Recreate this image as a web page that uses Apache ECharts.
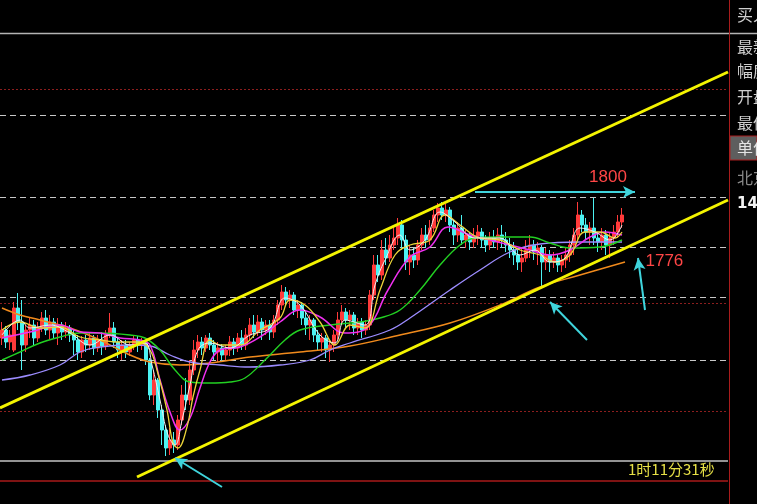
<!DOCTYPE html>
<html>
<head>
<meta charset="utf-8">
<script src="https://cdn.jsdelivr.net/npm/echarts@6/dist/echarts.min.js"></script>
<style>
  html, body { margin: 0; padding: 0; background: #000; }
  #chart { width: 757px; height: 504px; }
</style>
</head>
<body>
<div id="chart"></div>
<script>
// K-line values, one per bar
const opens = [
  1743.6,1746.8,1742.0,1738.8,1755.6,1750.0,1740.8,1746.8,1748.8,1743.6,
  1747.6,1751.6,1746.8,1750.0,1745.6,1748.8,1746.0,1747.6,1744.8,1742.8,
  1738.0,1742.8,1740.8,1743.6,1739.6,1742.8,1740.4,1744.8,1747.6,1742.0,
  1738.8,1740.8,1738.0,1740.8,1742.8,1740.8,1742.0,1734.8,1720.8,1726.8,
  1714.8,1706.8,1699.6,1702.8,1700.8,1710.8,1720.8,1718.8,1730.8,1738.8,
  1742.0,1739.6,1743.6,1740.8,1738.0,1739.6,1736.8,1738.8,1742.0,1739.6,
  1743.6,1740.8,1744.8,1748.8,1746.0,1750.0,1746.8,1748.8,1746.0,1750.8,
  1756.8,1762.0,1758.8,1760.8,1754.8,1756.8,1751.6,1748.8,1750.8,1744.8,
  1742.0,1743.6,1738.8,1740.8,1744.8,1750.8,1754.0,1750.8,1752.8,1747.6,
  1750.0,1746.8,1748.8,1760.8,1772.8,1768.8,1778.8,1775.6,1780.8,1783.6,
  1788.8,1782.8,1774.0,1776.8,1774.8,1780.8,1784.8,1782.8,1787.6,1792.8,
  1795.6,1792.8,1794.8,1788.8,1784.8,1787.6,1782.8,1784.8,1782.0,1784.4,
  1786.0,1782.8,1780.8,1783.6,1782.0,1784.8,1782.8,1780.8,1778.8,1776.8,
  1774.0,1775.6,1778.8,1780.8,1778.0,1779.6,1774.0,1776.8,1774.0,1775.6,
  1772.8,1774.8,1776.8,1780.8,1784.8,1792.8,1788.8,1786.0,1787.6,1783.6,
  1782.0,1784.8,1780.8,1783.6,1786.0,1790.0
];
const closes = [
  1746.8,1742.0,1744.8,1755.6,1750.0,1740.8,1746.8,1748.8,1743.6,1747.6,
  1751.6,1746.8,1750.0,1745.6,1748.8,1746.0,1747.6,1744.8,1742.8,1738.0,
  1742.8,1740.8,1743.6,1739.6,1742.8,1740.4,1744.8,1747.6,1742.0,1738.8,
  1740.8,1738.0,1740.8,1742.8,1740.8,1742.0,1734.8,1720.8,1726.8,1714.8,
  1706.8,1699.6,1702.8,1700.8,1710.8,1720.8,1718.8,1730.8,1738.8,1742.0,
  1739.6,1743.6,1740.8,1738.0,1739.6,1736.8,1738.8,1742.0,1739.6,1743.6,
  1740.8,1744.8,1748.8,1746.0,1750.0,1746.8,1748.8,1746.0,1750.8,1756.8,
  1762.0,1758.8,1760.8,1754.8,1756.8,1751.6,1748.8,1750.8,1744.8,1742.0,
  1743.6,1738.8,1740.8,1744.8,1750.8,1754.0,1750.8,1752.8,1747.6,1750.0,
  1746.8,1748.8,1760.8,1772.8,1768.8,1778.8,1775.6,1780.8,1783.6,1788.8,
  1782.8,1774.0,1776.8,1774.8,1780.8,1784.8,1782.8,1787.6,1792.8,1795.6,
  1792.8,1794.8,1788.8,1784.8,1787.6,1782.8,1784.8,1782.0,1784.4,1786.0,
  1782.8,1780.8,1783.6,1782.0,1784.8,1782.8,1780.8,1778.8,1776.8,1774.0,
  1775.6,1778.8,1780.8,1778.0,1779.6,1774.0,1776.8,1774.0,1775.6,1772.8,
  1774.8,1776.8,1780.8,1784.8,1792.8,1788.8,1786.0,1787.6,1783.6,1782.0,
  1784.8,1780.8,1783.6,1786.0,1790.0,1792.8
];
const lows = [
  1740.8,1739.6,1738.8,1738.0,1746.8,1730.8,1738.0,1743.6,1740.8,1742.0,
  1746.0,1744.8,1742.8,1743.6,1740.8,1742.8,1743.6,1742.0,1736.8,1734.8,
  1735.6,1738.0,1738.8,1736.8,1738.0,1736.8,1738.8,1743.6,1739.6,1735.6,
  1734.8,1735.6,1736.4,1738.8,1738.0,1738.8,1732.8,1718.8,1716.8,1711.6,
  1700.8,1696.4,1696.8,1697.6,1698.8,1708.8,1714.8,1716.8,1728.8,1735.6,
  1736.8,1738.0,1738.8,1734.8,1734.0,1734.0,1734.8,1736.4,1736.8,1738.0,
  1738.8,1738.8,1742.8,1743.6,1744.4,1742.8,1744.8,1742.8,1743.6,1748.8,
  1754.8,1756.8,1755.6,1752.8,1751.6,1748.8,1744.8,1742.8,1742.0,1738.8,
  1738.0,1735.6,1734.0,1738.0,1742.8,1748.8,1747.6,1746.8,1744.8,1744.8,
  1743.6,1744.8,1746.8,1758.8,1766.0,1766.8,1772.8,1774.0,1778.8,1780.8,
  1778.8,1770.8,1768.8,1771.6,1772.8,1778.8,1779.6,1780.8,1786.0,1790.0,
  1790.8,1790.0,1786.0,1780.8,1782.0,1780.8,1779.6,1778.8,1779.6,1780.8,
  1779.6,1778.0,1778.8,1779.6,1778.8,1779.6,1778.0,1775.6,1772.8,1770.8,
  1770.0,1774.0,1775.6,1774.8,1772.8,1764.0,1770.8,1770.0,1771.6,1770.0,
  1770.0,1771.6,1774.0,1776.8,1782.8,1786.0,1782.8,1780.8,1780.8,1778.0,
  1778.8,1776.8,1775.6,1780.8,1783.6,1787.6
];
const highs = [
  1750.0,1748.4,1746.8,1758.0,1761.6,1758.8,1748.8,1751.6,1750.8,1750.0,
  1754.0,1754.8,1752.8,1751.6,1751.6,1750.0,1750.0,1748.8,1746.8,1744.8,
  1744.4,1744.8,1746.0,1744.8,1744.8,1746.0,1746.8,1753.6,1750.0,1743.6,
  1742.8,1742.8,1742.0,1744.8,1744.4,1743.6,1742.8,1735.6,1730.8,1727.6,
  1716.8,1708.8,1707.6,1706.0,1712.8,1724.8,1727.6,1734.8,1742.8,1744.8,
  1744.0,1744.8,1745.6,1742.8,1742.0,1741.2,1740.8,1744.4,1743.6,1745.6,
  1746.8,1747.6,1751.6,1752.8,1752.8,1751.6,1750.8,1750.8,1752.8,1758.8,
  1764.8,1764.0,1762.8,1762.0,1758.8,1758.0,1754.0,1752.8,1751.6,1746.8,
  1745.6,1744.8,1742.8,1746.8,1754.0,1756.8,1755.6,1754.8,1754.0,1751.6,
  1751.6,1750.8,1762.8,1776.8,1776.8,1782.8,1783.6,1784.8,1788.8,1791.6,
  1790.8,1784.8,1780.8,1779.6,1782.8,1787.6,1788.8,1790.8,1794.8,1797.6,
  1798.0,1797.2,1796.0,1790.8,1790.0,1792.8,1786.8,1786.0,1787.6,1788.8,
  1787.6,1784.8,1786.0,1786.8,1787.6,1788.8,1786.0,1783.6,1782.0,1778.8,
  1779.6,1782.8,1784.8,1782.8,1782.0,1780.8,1779.6,1778.8,1778.0,1776.8,
  1776.8,1779.6,1782.8,1787.6,1798.0,1794.8,1791.6,1790.0,1799.6,1786.0,
  1787.6,1786.8,1786.0,1788.8,1792.8,1795.6
];

// moving average lines, sampled [bar index, price]
const ma5 = [[0,1744.8],[4.5,1750.8],[7,1747.6],[12,1748.8],[17,1745.6],[22,1740.8],[27,1744.8],[32,1740.8],[35.75,1741.6],[37.5,1732.8],[39.5,1718.8],[41.5,1704.8],[43.25,1700.8],[45,1710.8],[47,1724.8],[49,1738.8],[52,1741.6],[57,1739.6],[62,1744.8],[67,1747.6],[70.75,1759.6],[74.5,1756.8],[79.5,1744.8],[83.25,1741.6],[85.75,1750.8],[90.75,1748.8],[93.25,1764.8],[95.75,1774.8],[99.5,1784.8],[102,1778.8],[105.75,1782.8],[109.5,1794.0],[113.25,1790.0],[118.25,1783.6],[124.5,1783.6],[129.5,1776.8],[133.25,1778.8],[137,1774.0],[140.75,1775.6],[144.5,1787.6],[148.25,1786.0],[152,1782.8],[155,1788.8]];
const ma10 = [[0,1746.8],[4.5,1750.0],[9.5,1747.6],[14.5,1748.0],[19.5,1744.0],[24.5,1742.8],[29.5,1742.0],[34.5,1742.0],[37,1738.8],[38.75,1730.8],[41.25,1714.8],[42.75,1701.6],[44,1699.6],[46.25,1708.0],[47.75,1720.0],[49.5,1730.8],[52,1742.8],[54.5,1740.8],[59.5,1740.8],[64.5,1746.8],[69.5,1751.6],[72,1758.8],[75.75,1756.8],[79.5,1750.0],[83.25,1740.8],[87,1748.8],[90.75,1747.6],[94.5,1762.8],[98.25,1776.8],[102,1780.8],[107,1782.8],[110.75,1792.8],[114.5,1788.8],[119.5,1783.6],[124.5,1782.8],[129.5,1778.8],[134.5,1776.8],[138.25,1774.0],[142,1776.8],[145.75,1786.0],[149.5,1786.0],[153.25,1783.6],[155,1786.0]];
const ma20 = [[0,1743.6],[7,1746.0],[14.5,1748.8],[19.5,1746.0],[24.5,1745.6],[29.5,1743.6],[34.5,1742.8],[37,1740.8],[39.5,1726.8],[42,1714.0],[44.5,1706.8],[47,1711.6],[49.5,1723.6],[52,1734.0],[54.5,1738.8],[59.5,1740.0],[64.5,1744.0],[69.5,1750.0],[74.5,1754.8],[79.5,1752.0],[85.75,1745.6],[91.5,1748.0],[96.5,1762.8],[102,1776.0],[107,1780.0],[111.5,1788.0],[117,1784.8],[122,1782.8],[127,1780.8],[132,1778.8],[137,1776.8],[142,1778.8],[147,1784.0],[150.75,1786.0],[155,1784.8]];
const ma60 = [[0,1734.8],[4.5,1738.0],[9.5,1741.6],[14.5,1744.0],[19.5,1745.6],[24.5,1745.6],[32,1744.8],[35.75,1743.6],[39.5,1738.8],[43.25,1730.8],[47,1726.0],[52,1725.6],[57,1726.0],[60.75,1727.6],[65.75,1734.8],[70.75,1742.8],[74.5,1746.8],[82,1748.8],[89.5,1750.0],[94.5,1751.6],[99.5,1754.8],[104.5,1762.8],[109.5,1772.8],[114.5,1780.8],[118.25,1783.6],[124.5,1784.0],[132,1784.0],[137,1781.6],[142,1779.6],[149.5,1780.0],[155,1782.8]];
const ma120 = [[0,1726.8],[7,1728.8],[14.5,1732.8],[19.5,1738.0],[24.5,1740.0],[32,1740.8],[37,1740.4],[42,1736.8],[47,1734.0],[54.5,1732.8],[62,1732.0],[69.5,1732.8],[77,1734.8],[82,1738.8],[87,1741.6],[97,1746.8],[102,1751.6],[112,1762.8],[119.5,1770.8],[127,1778.0],[134.5,1781.2],[144.5,1782.0],[155,1782.0]];
const ma250 = [[0,1755.6],[4.5,1752.8],[9.5,1750.8],[17,1747.6],[24.5,1742.8],[32,1736.8],[37,1734.0],[44.5,1732.8],[52,1733.6],[62,1736.0],[74.5,1738.0],[87,1740.4],[99.5,1744.8],[112,1749.6],[124.5,1756.8],[134.5,1764.0],[144.5,1768.8],[155.75,1774.0]];

// hand-drawn channel and arrows, [bar index, price]
const upperChannel = [[-0.5,1715.6],[181.5,1850.0]];
const lowerChannel = [[33.75,1688.0],[181.5,1798.8]];
const arrows = [
  [[118.25,1802.0],[158.25,1802.0]],
  [[55.0,1684.0],[43.25,1695.6]],
  [[146.25,1742.8],[137.0,1758.0]],
  [[160.75,1754.8],[159.0,1775.6]]
];
const priceNotes = [
  { text: '1800', at: [151.5, 1808.0] },
  { text: '1776', at: [165.6, 1774.4] }
];
const dashLevels = [1832.8, 1800, 1780, 1760, 1734.8];
const dotLevels = [1843.2, 1757.6, 1714.4];
const baseLevel = 1694.4;
const floorLevel = 1686.4;

const slotCount = 182;
const categories = [];
for (let i = 0; i < slotCount; i++) categories.push(String(i + 1));

const kData = opens.map((o, i) => [o, closes[i], lows[i], highs[i]]);

const levelLines = [];
dashLevels.forEach(v => levelLines.push({ yAxis: v, lineStyle: { color: '#c8c8c8', type: [6, 4], width: 1 } }));
dotLevels.forEach(v => levelLines.push({ yAxis: v, lineStyle: { color: '#8c1e1e', type: [2, 2], width: 1 } }));
levelLines.push({ yAxis: baseLevel, lineStyle: { color: '#c4c4c4', type: 'solid', width: 1.5 } });
levelLines.push({ yAxis: floorLevel, lineStyle: { color: '#a81a1a', type: 'solid', width: 1.5 } });

function maSeries(data, color, width) {
  return {
    type: 'line', xAxisIndex: 1, data: data, smooth: 0.4,
    showSymbol: false, silent: true, z: 3,
    lineStyle: { color: color, width: width }
  };
}

const chart = echarts.init(document.getElementById('chart'));
const option = {
  backgroundColor: '#000',
  animation: false,
  grid: { left: 0, right: 29, top: 33, bottom: 0 },
  xAxis: [
    { type: 'category', data: categories, show: false },
    { type: 'value', min: -0.5, max: 181.5, show: false }
  ],
  yAxis: { type: 'value', min: 1677.2, max: 1865.6, show: false, splitLine: { show: false } },
  series: [
    {
      type: 'candlestick', data: kData, barWidth: 3, z: 2,
      itemStyle: { color: '#ff3a3a', color0: '#4cf2f2', borderColor: '#ff3a3a', borderColor0: '#4cf2f2', borderWidth: 1 },
      markLine: { silent: true, symbol: 'none', label: { show: false }, data: levelLines, z: 1 }
    },
    maSeries(ma250, '#f08a1c', 1.5),
    maSeries(ma120, '#9c8cff', 1.3),
    maSeries(ma60, '#22d022', 1.4),
    maSeries(ma20, '#f030f0', 1.5),
    maSeries(ma10, '#ecd43a', 1.3),
    maSeries(ma5, '#f0f0f0', 1),
    {
      type: 'line', xAxisIndex: 1, data: upperChannel, showSymbol: false, silent: true, z: 4,
      lineStyle: { color: '#f4f400', width: 3 }
    },
    {
      type: 'line', xAxisIndex: 1, data: lowerChannel, showSymbol: false, silent: true, z: 4,
      lineStyle: { color: '#f4f400', width: 3 },
      markLine: {
        silent: true, symbol: ['none', 'arrow'], symbolSize: [9, 12], label: { show: false },
        lineStyle: { color: '#3fd4dc', width: 2, type: 'solid' },
        data: arrows.map(a => [{ coord: a[0] }, { coord: a[1] }]),
        z: 5
      },
      markPoint: {
        silent: true, symbol: 'circle', symbolSize: 1,
        itemStyle: { color: 'transparent' },
        label: { show: true, color: '#ff4646', fontSize: 17, fontFamily: 'Liberation Sans, Arial, sans-serif', formatter: p => p.name },
        data: priceNotes.map(n => ({ name: n.text, coord: n.at }))
      }
    }
  ],
  graphic: [
    { type: 'line', shape: { x1: 0, y1: 33.5, x2: 757, y2: 33.5 }, style: { stroke: '#b4b4b4', lineWidth: 1.5 }, silent: true },
    { type: 'line', shape: { x1: 729.5, y1: 0, x2: 729.5, y2: 504 }, style: { stroke: '#a81c1c', lineWidth: 1 }, silent: true },
    { type: 'rect', shape: { x: 730, y: 136, width: 27, height: 24 }, style: { fill: '#5e5e5e', stroke: '#a81c1c', lineWidth: 1 }, silent: true },
    { type: 'text', left: 737, top: 7, style: { text: '买入', fill: '#cfcfcf', font: '16px "Noto Sans CJK SC"' } },
    { type: 'text', left: 737, top: 39, style: { text: '最新', fill: '#cfcfcf', font: '16px "Noto Sans CJK SC"' } },
    { type: 'text', left: 737, top: 63, style: { text: '幅度', fill: '#cfcfcf', font: '16px "Noto Sans CJK SC"' } },
    { type: 'text', left: 737, top: 89, style: { text: '开盘', fill: '#cfcfcf', font: '16px "Noto Sans CJK SC"' } },
    { type: 'text', left: 737, top: 115, style: { text: '最低', fill: '#cfcfcf', font: '16px "Noto Sans CJK SC"' } },
    { type: 'text', left: 737, top: 140, style: { text: '单位', fill: '#e4e4e4', font: '16px "Noto Sans CJK SC"' } },
    { type: 'text', left: 737, top: 170, style: { text: '北京', fill: '#8a8a8a', font: '16px "Noto Sans CJK SC"' } },
    { type: 'text', left: 737, top: 197, style: { text: '14', fill: '#f2f2f2', font: 'bold 15px "DejaVu Sans"' } },
    { type: 'text', left: 628, top: 462, style: { text: '1时11分31秒', fill: '#e6e046', font: '15px "Noto Sans CJK SC"' } }
  ]
};
chart.setOption(option);
</script>
</body>
</html>
